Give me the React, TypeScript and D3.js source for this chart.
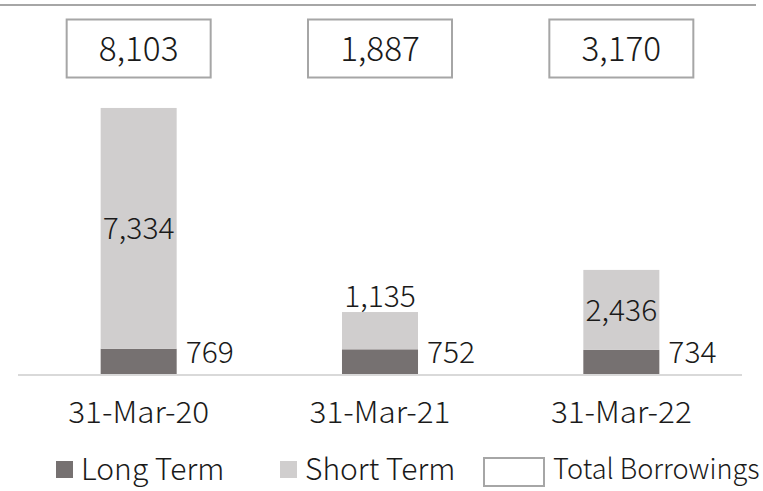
import React from 'react';
import * as d3 from 'd3';

const categories = ['31-Mar-20', '31-Mar-21', '31-Mar-22'];
const longTerm = [769, 752, 734];
const shortTerm = [7334, 1135, 2436];
const totals = [8103, 1887, 3170];

const W = 763;
const H = 491;
const FONT = '"Noto Sans CJK JP", "Noto Sans", sans-serif';
const DARK = '#767171';
const LIGHT = '#d0cece';
const BORDER = '#a6a6a6';
const INK = '#1a1a1a';
const fmt = d3.format(',');

// text with an optional sideways stretch to match the reference font's width
const T = ({ x, y, sx = 1, anchor = 'start', size, children }: any) => (
  <text transform={`translate(${x},${y}) scale(${sx},1)`} textAnchor={anchor}
    fontSize={size} fontWeight={300} fill={INK}>{children}</text>
);

const App = () => {
  const x = d3.scaleBand<string>()
    .domain(categories)
    .range([18, 742])
    .paddingInner(0.685)
    .paddingOuter(0.3425);

  const y = d3.scaleLinear().domain([0, 9000]).range([374, 78.5]);

  const rows = categories.map((c, i) => ({ cat: c, long: longTerm[i], short: shortTerm[i] }));
  const stack = d3.stack<any>().keys(['long', 'short'])(rows);
  const colors: Record<string, string> = { long: DARK, short: LIGHT };

  const bw = x.bandwidth();
  const boxW = 144;

  return (
    <svg width={W} height={H} style={{ position: 'absolute', left: 0, top: 0, background: '#fff' }}
      fontFamily={FONT}>
      <line x1={0} x2={756} y1={5} y2={5} stroke={BORDER} strokeWidth={2} />

      {/* total boxes */}
      {totals.map((t, i) => {
        const cx = x(categories[i])! + bw / 2;
        return (
          <g key={'t' + i}>
            <rect x={cx - boxW / 2} y={19.5} width={boxW} height={58} fill="#fff" stroke={BORDER} strokeWidth={2} />
            <T x={cx} y={60.5} anchor="middle" size={34} sx={0.98}>{fmt(t)}</T>
          </g>
        );
      })}

      {/* stacked bars */}
      {stack.map(s => (
        <g key={s.key} fill={colors[s.key]}>
          {s.map((d, i) => (
            <rect key={i} x={x(categories[i])} y={y(d[1])} width={bw} height={y(d[0]) - y(d[1])} />
          ))}
        </g>
      ))}

      <line x1={18} x2={742} y1={375} y2={375} stroke="#d9d9d9" strokeWidth={2} />

      {/* short term labels */}
      {stack[1].map((d, i) => {
        const cx = x(categories[i])! + bw / 2;
        const h = y(d[0]) - y(d[1]);
        const ly = h < 45 ? y(d[1]) - 5 : (y(d[0]) + y(d[1])) / 2 + 11;
        return <T key={'s' + i} x={cx} y={ly} anchor="middle" size={30}>{fmt(shortTerm[i])}</T>;
      })}

      {/* long term labels */}
      {longTerm.map((v, i) => (
        <T key={'l' + i} x={x(categories[i])! + bw + 9} y={y(0) - 11} size={30}>{fmt(v)}</T>
      ))}

      {/* category labels */}
      {categories.map(c => (
        <T key={c} x={x(c)! + bw / 2} y={422.5} anchor="middle" size={30} sx={1.05}>{c}</T>
      ))}

      {/* legend */}
      <rect x={56} y={461} width={17} height={17} fill={DARK} />
      <T x={81} y={480} size={30}>Long Term</T>
      <rect x={280} y={461} width={17} height={17} fill={LIGHT} />
      <T x={305} y={480} size={30}>Short Term</T>
      <rect x={484} y={458} width={60} height={28} fill="#fff" stroke={BORDER} strokeWidth={2} />
      <T x={553} y={479} size={28} sx={0.97}>Total Borrowings</T>
    </svg>
  );
};

export default App;
